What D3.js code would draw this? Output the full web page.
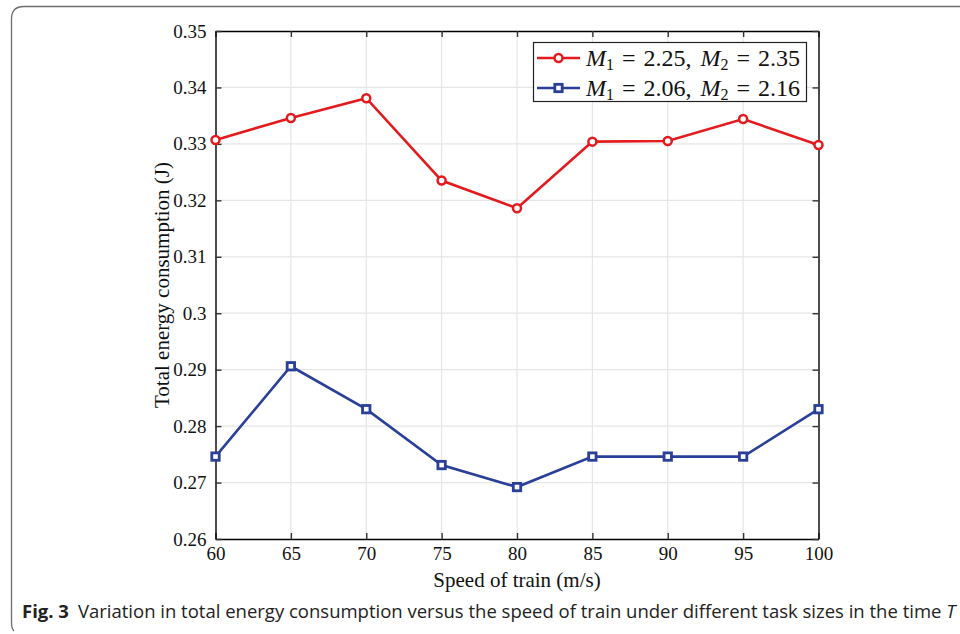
<!DOCTYPE html>
<html>
<head>
<meta charset="utf-8">
<script src="https://cdn.jsdelivr.net/npm/d3@7"></script>
<style>
  body { margin: 0; background: #fff; }
  svg { display: block; }
</style>
</head>
<body>
<script>
// data
var speeds = [60, 65, 70, 75, 80, 85, 90, 95, 100];
var energyRed = [0.3307, 0.3346, 0.3381, 0.3235, 0.3186, 0.3304, 0.3305, 0.3344, 0.3298];
var energyBlue = [0.2746, 0.2906, 0.2830, 0.2731, 0.2692, 0.2746, 0.2746, 0.2746, 0.2830];
var xTicks = [60, 65, 70, 75, 80, 85, 90, 95, 100];
var yTicks = [0.26, 0.27, 0.28, 0.29, 0.30, 0.31, 0.32, 0.33, 0.34, 0.35];
var yTickLabels = ["0.26", "0.27", "0.28", "0.29", "0.3", "0.31", "0.32", "0.33", "0.34", "0.35"];

var totalWidth = 960;
var totalHeight = 634;
var margin = {top: 31, left: 215.5, bottom: 634 - 539, right: 960 - 818.5};
var width = totalWidth - margin.left - margin.right;
var height = totalHeight - margin.top - margin.bottom;

var red = "#e31b1e";
var blue = "#2a3f98";
var serif = "'Liberation Serif', 'DejaVu Serif', serif";

var svgin = d3.select("body")
    .append("svg")
    .attr("width", totalWidth)
    .attr("height", totalHeight);

// figure frame (left and top edges visible)
svgin.append("path")
    .attr("d", "M14,631 Q11.5,629 11.5,622 L11.5,19 Q11.5,6.5 24,6.5 L960,6.5")
    .attr("fill", "none")
    .attr("stroke", "#6d6d6d")
    .attr("stroke-width", 1.3);

var svg = svgin.append("g")
    .attr("transform", "translate(" + margin.left + "," + margin.top + ")");

var x = d3.scaleLinear().domain([60, 100]).range([0, width]);
var y = d3.scaleLinear().domain([0.26, 0.35]).range([height, 0]);

// grid
svg.append("g")
   .selectAll("line")
   .data(xTicks.slice(1, -1))
   .enter()
   .append("line")
   .attr("x1", d => x(d)).attr("x2", d => x(d))
   .attr("y1", 0).attr("y2", height)
   .attr("stroke", "#e6e6e6")
   .attr("stroke-width", 1.2);

svg.append("g")
   .selectAll("line")
   .data(yTicks.slice(1, -1))
   .enter()
   .append("line")
   .attr("x1", 0).attr("x2", width)
   .attr("y1", d => y(d)).attr("y2", d => y(d))
   .attr("stroke", "#e6e6e6")
   .attr("stroke-width", 1.2);

// axes with inward ticks
var xAxis = svg.append("g")
   .attr("transform", "translate(0," + height + ")")
   .call(d3.axisBottom(x).tickValues(xTicks).tickSizeInner(-6).tickSizeOuter(0).tickPadding(8));
var xTop = svg.append("g")
   .call(d3.axisTop(x).tickValues(xTicks).tickSizeInner(-6).tickSizeOuter(0).tickFormat(""));
var yAxis = svg.append("g")
   .call(d3.axisLeft(y).tickValues(yTicks).tickSizeInner(-6).tickSizeOuter(0).tickPadding(9)
         .tickFormat((d, i) => yTickLabels[i]));
var yRight = svg.append("g")
   .attr("transform", "translate(" + width + ",0)")
   .call(d3.axisRight(y).tickValues(yTicks).tickSizeInner(-6).tickSizeOuter(0).tickFormat(""));

[xAxis, xTop, yAxis, yRight].forEach(function(a) {
  a.attr("font-size", null).attr("font-family", null);
  a.select(".domain").attr("stroke", "#000").attr("stroke-width", 1.4);
  a.selectAll(".tick line").attr("stroke", "#333").attr("stroke-width", 1.4);
  a.selectAll("text")
   .style("font-family", serif)
   .style("font-size", "19px")
   .attr("fill", "#111");
});
xAxis.selectAll("text").attr("dy", "0.71em");

// series
var line = d3.line()
    .x(d => x(d[0]))
    .y(d => y(d[1]));

var redData = speeds.map((s, i) => [s, energyRed[i]]);
var blueData = speeds.map((s, i) => [s, energyBlue[i]]);

svg.append("path")
   .datum(redData)
   .attr("d", line)
   .attr("fill", "none")
   .attr("stroke", red)
   .attr("stroke-width", 2.6);

svg.append("path")
   .datum(blueData)
   .attr("d", line)
   .attr("fill", "none")
   .attr("stroke", blue)
   .attr("stroke-width", 2.6);

svg.selectAll("circle.red")
   .data(redData)
   .enter()
   .append("circle")
   .attr("class", "red")
   .attr("cx", d => x(d[0]))
   .attr("cy", d => y(d[1]))
   .attr("r", 4)
   .attr("fill", "#fff")
   .attr("stroke", red)
   .attr("stroke-width", 2.5);

svg.selectAll("rect.blue")
   .data(blueData)
   .enter()
   .append("rect")
   .attr("class", "blue")
   .attr("x", d => x(d[0]) - 3.7)
   .attr("y", d => y(d[1]) - 3.7)
   .attr("width", 7.4)
   .attr("height", 7.4)
   .attr("fill", "#fff")
   .attr("stroke", blue)
   .attr("stroke-width", 2.8);

// legend
var legend = svgin.append("g");
legend.append("rect")
   .attr("x", 533.5).attr("y", 42.5)
   .attr("width", 273).attr("height", 59)
   .attr("fill", "#fff")
   .attr("stroke", "#222")
   .attr("stroke-width", 1.2);

var legendItems = [
  {color: red, shape: "circle", m1: "2.25", m2: "2.35", cy: 58},
  {color: blue, shape: "square", m1: "2.06", m2: "2.16", cy: 88}
];

legendItems.forEach(function(it) {
  legend.append("line")
     .attr("x1", 537).attr("x2", 580)
     .attr("y1", it.cy).attr("y2", it.cy)
     .attr("stroke", it.color).attr("stroke-width", 2.6);
  if (it.shape == "circle") {
    legend.append("circle")
       .attr("cx", 558.5).attr("cy", it.cy).attr("r", 4)
       .attr("fill", "#fff").attr("stroke", it.color).attr("stroke-width", 2.5);
  } else {
    legend.append("rect")
       .attr("x", 554.8).attr("y", it.cy - 3.7).attr("width", 7.4).attr("height", 7.4)
       .attr("fill", "#fff").attr("stroke", it.color).attr("stroke-width", 2.8);
  }
  var t = legend.append("text")
     .attr("x", 586).attr("y", it.cy + 8)
     .attr("font-family", serif)
     .attr("font-size", "24px")
     .attr("fill", "#111");
  t.append("tspan").attr("font-style", "italic").text("M");
  t.append("tspan").attr("font-size", "16px").attr("dy", 4).text("1");
  t.append("tspan").attr("dy", -4).attr("dx", 8).text("=");
  t.append("tspan").attr("dx", 8).text(it.m1 + ",");
  t.append("tspan").attr("dx", 9).attr("font-style", "italic").text("M");
  t.append("tspan").attr("font-size", "16px").attr("dy", 4).text("2");
  t.append("tspan").attr("dy", -4).attr("dx", 8).text("=");
  t.append("tspan").attr("dx", 8).text(it.m2);
});

// axis labels
svgin.append("text")
   .attr("x", margin.left + width / 2)
   .attr("y", 587)
   .attr("text-anchor", "middle")
   .attr("font-family", serif)
   .attr("font-size", "21px")
   .attr("fill", "#111")
   .text("Speed of train (m/s)");

svgin.append("text")
   .attr("transform", "translate(169," + (margin.top + height / 2) + ") rotate(-90)")
   .attr("text-anchor", "middle")
   .attr("font-family", serif)
   .attr("font-size", "21px")
   .attr("fill", "#111")
   .text("Total energy consumption (J)");

// caption
var cap = svgin.append("text")
   .attr("x", 22)
   .attr("y", 618)
   .attr("font-family", "'Open Sans', 'Noto Sans', sans-serif")
   .attr("font-size", "18.5px")
   .attr("fill", "#222");
cap.append("tspan").attr("font-weight", "bold").text("Fig. 3");
cap.append("tspan").attr("dx", 9)
   .text("Variation in total energy consumption versus the speed of train under different task sizes in the time ");
cap.append("tspan").attr("font-style", "italic").text("T");
</script>
</body>
</html>
